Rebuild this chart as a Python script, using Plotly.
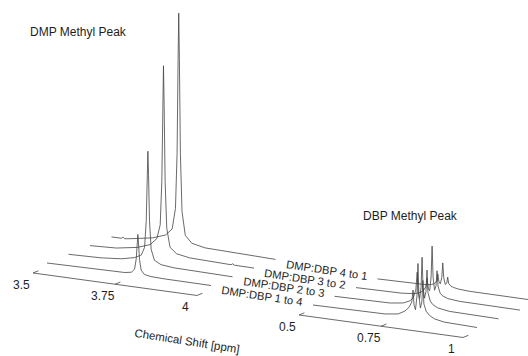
import numpy as np
import plotly.graph_objects as go

# ---------------- data ----------------
series_labels = ["DMP:DBP 1 to 4", "DMP:DBP 2 to 3", "DMP:DBP 3 to 2", "DMP:DBP 4 to 1"]

# DMP methyl region (ppm, intensity a.u.)
dmp_ppm_1 = [3.50, 3.697, 3.737, 3.757, 3.767, 3.772, 3.775, 3.777, 3.779, 3.782, 3.787, 3.797, 3.817, 3.857, 4.00]
dmp_int_1 = [0, 0.2, 0.5, 1.0, 2.5, 7.0, 14.0, 17.6, 14.0, 7.0, 2.5, 0.8, 0.3, 0.1, 0]
dmp_ppm_2 = [3.50, 3.60, 3.662, 3.702, 3.722, 3.732, 3.737, 3.740, 3.742, 3.744, 3.747, 3.752, 3.762, 3.782, 3.822, 4.00]
dmp_int_2 = [0, 0.4, 1.2, 2.5, 4.0, 7.5, 19.0, 39.0, 48.9, 39.0, 19.0, 7.0, 2.5, 1.0, 0.4, 0]
dmp_ppm_3 = [3.50, 3.58, 3.644, 3.684, 3.704, 3.714, 3.719, 3.722, 3.724, 3.726, 3.729, 3.734, 3.744, 3.764, 3.804, 3.93, 3.935, 3.94, 4.00]
dmp_int_3 = [0, 0.5, 2.0, 4.0, 7.0, 13, 32, 65, 81.5, 65, 32, 12, 4.0, 1.6, 0.6, 0.1, 0.6, 0.1, 0]
dmp_ppm_4 = [3.50, 3.53, 3.535, 3.54, 3.56, 3.625, 3.665, 3.685, 3.695, 3.700, 3.703, 3.705, 3.707, 3.710, 3.715, 3.725, 3.745, 3.785, 4.00]
dmp_int_4 = [0, 0, 0.6, 0, 0.4, 2.0, 4.0, 7.0, 16, 40, 80, 100, 80, 40, 15, 5.0, 2.0, 0.8, 0]

# DBP methyl region (ppm, intensity a.u.)
dbp_ppm_1 = [0.50, 0.72, 0.76, 0.78, 0.792, 0.801, 0.805, 0.808, 0.8125, 0.817, 0.820, 0.823, 0.8275, 0.832, 0.835, 0.838, 0.845, 0.855, 0.87, 0.90, 1.00]
dbp_int_1 = [0, 0.4, 1.2, 2.8, 4.5, 7, 12.3, 6, 4, 10, 24, 10, 5, 8, 17, 7, 4.0, 2.4, 1.2, 0.4, 0]
dbp_ppm_2 = [0.50, 0.67, 0.71, 0.73, 0.740, 0.748, 0.752, 0.755, 0.7595, 0.764, 0.767, 0.770, 0.7745, 0.779, 0.782, 0.785, 0.792, 0.80, 0.815, 0.85, 1.00]
dbp_int_2 = [0, 0.4, 1.2, 2.5, 4.0, 7.5, 15.2, 7, 4, 9, 21.9, 9, 4.5, 7.5, 16.7, 7, 3.6, 2.2, 1.1, 0.3, 0]
dbp_ppm_3 = [0.50, 0.64, 0.68, 0.697, 0.706, 0.713, 0.717, 0.720, 0.7245, 0.729, 0.732, 0.735, 0.7395, 0.744, 0.747, 0.750, 0.757, 0.765, 0.78, 0.815, 1.00]
dbp_int_3 = [0, 0.3, 0.9, 1.8, 2.8, 4.5, 8.2, 4, 3, 9, 22.3, 9, 3.5, 5.5, 12, 5.5, 2.4, 1.5, 0.7, 0.2, 0]
dbp_ppm_4 = [0.50, 0.62, 0.65, 0.665, 0.672, 0.681, 0.684, 0.687, 0.6915, 0.696, 0.699, 0.702, 0.7065, 0.711, 0.714, 0.717, 0.724, 0.732, 0.747, 0.78, 1.00]
dbp_int_4 = [0, 0.1, 0.4, 0.8, 1.2, 2.6, 5.6, 2.6, 1.6, 4.4, 10.7, 4.4, 1.6, 2.2, 4.9, 2.2, 1.2, 0.8, 0.4, 0.1, 0]

dmp_ticks = [3.5, 3.75, 4.0]
dmp_tick_text = ["3.5", "3.75", "4"]
dbp_ticks = [0.5, 0.75, 1.0]
dbp_tick_text = ["0.5", "0.75", "1"]

# ---------------- oblique projection (waterfall view) ----------------
SX, SY = 328.0, 45.0      # screen px per ppm along the shift axis
KX, KY = 21.5, -8.7       # screen px per series step (depth)
IY = 2.33                 # screen px per intensity unit

panels = {
    "dmp": dict(p0=3.5, ox=47.0, oy=263.0),
    "dbp": dict(p0=0.5, ox=313.0, oy=305.0),
}


def project(panel, ppm, k, inten):
    p = panels[panel]
    ppm = np.asarray(ppm, float)
    inten = np.asarray(inten, float)
    x = p["ox"] + (ppm - p["p0"]) * SX + k * KX
    y = p["oy"] + (ppm - p["p0"]) * SY + k * KY - inten * IY
    return x, y


LINE = dict(color="#444444", width=0.8)
TXT = "#1e1e1e"
FONT = "Liberation Sans, Arial, Helvetica, sans-serif"

fig = go.Figure()

dmp = [(dmp_ppm_1, dmp_int_1), (dmp_ppm_2, dmp_int_2), (dmp_ppm_3, dmp_int_3), (dmp_ppm_4, dmp_int_4)]
dbp = [(dbp_ppm_1, dbp_int_1), (dbp_ppm_2, dbp_int_2), (dbp_ppm_3, dbp_int_3), (dbp_ppm_4, dbp_int_4)]

for k in range(3, -1, -1):
    for panel, data in (("dmp", dmp), ("dbp", dbp)):
        x, y = project(panel, data[k][0], k, data[k][1])
        fig.add_trace(go.Scatter(x=x, y=y, mode="lines", line=LINE, hoverinfo="skip", name=series_labels[k]))

# axes along the shift direction
K_AX, I_AX = -0.65, -1.85
annotations = []
for panel, ticks, texts in (("dmp", dmp_ticks, dmp_tick_text), ("dbp", dbp_ticks, dbp_tick_text)):
    x, y = project(panel, [ticks[0], ticks[-1]], K_AX, [I_AX, I_AX])
    fig.add_trace(go.Scatter(x=x, y=y, mode="lines", line=LINE, hoverinfo="skip"))
    for t, s in zip(ticks, texts):
        tx0, ty0 = project(panel, [t], K_AX, [I_AX])
        tx1, ty1 = project(panel, [t], K_AX + 0.25, [I_AX])
        fig.add_trace(go.Scatter(x=[tx0[0], tx1[0]], y=[ty0[0], ty1[0]], mode="lines", line=LINE, hoverinfo="skip"))
        annotations.append(dict(x=tx0[0], y=ty0[0], xref="x", yref="y", text=s, showarrow=False,
                                xshift=-12, yshift=-12, font=dict(size=12, color=TXT, family=FONT)))

# series labels in front of the DBP traces
for k, lab in enumerate(series_labels):
    lx, ly = project("dbp", [0.345], k, [0.8])
    annotations.append(dict(x=lx[0], y=ly[0], xref="x", yref="y", text=lab, showarrow=False,
                            textangle=8.5, font=dict(size=11.2, color=TXT, family=FONT)))

annotations += [
    dict(x=78, y=32, xref="x", yref="y", text="DMP Methyl Peak", showarrow=False,
         font=dict(size=12, color=TXT, family=FONT)),
    dict(x=410, y=216, xref="x", yref="y", text="DBP Methyl Peak", showarrow=False,
         font=dict(size=12, color=TXT, family=FONT)),
    dict(x=187, y=341, xref="x", yref="y", text="Chemical Shift [ppm]", showarrow=False,
         textangle=9, font=dict(size=11.5, color=TXT, family=FONT)),
]

fig.update_layout(
    width=528, height=356,
    margin=dict(l=0, r=0, t=0, b=0),
    paper_bgcolor="white", plot_bgcolor="white",
    showlegend=False,
    xaxis=dict(range=[0, 528], visible=False, fixedrange=True),
    yaxis=dict(range=[356, 0], visible=False, fixedrange=True),
    annotations=annotations,
)

fig.write_html("out.html")
